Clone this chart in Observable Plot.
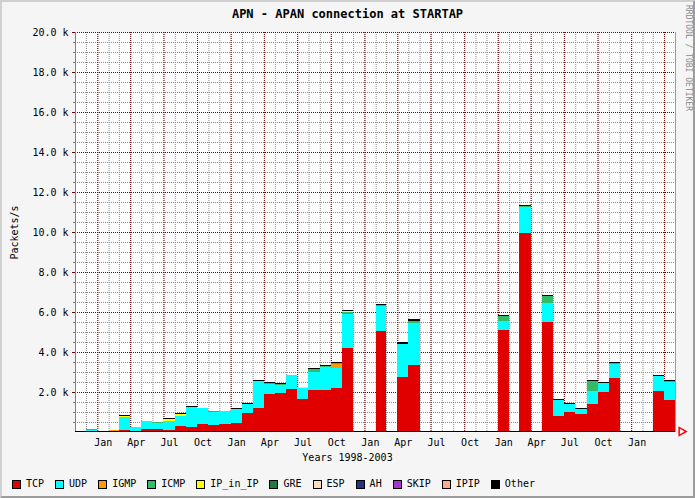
<!DOCTYPE html>
<html>
<head>
<meta charset="utf-8">
<script src="https://cdn.jsdelivr.net/npm/d3@7"></script>
<script src="https://cdn.jsdelivr.net/npm/@observablehq/plot@0.6"></script>
<style>
html, body { margin: 0; padding: 0; background: #f5f5f5; }
#chart { position: relative; width: 695px; height: 498px; overflow: hidden; background: #f5f5f5; font-family: "DejaVu Sans Mono", monospace; color: #000; }
#title { position: absolute; top: 7px; left: 0; width: 695px; text-align: center; font-size: 12px; font-weight: bold; line-height: 14px; }
#plot { position: absolute; left: 0; top: 0; }
#legend { position: absolute; left: 12px; top: 478px; display: flex; gap: 11px; font-size: 10px; line-height: 12px; }
.item { display: flex; align-items: center; }
.sw { width: 7px; height: 7px; border: 1px solid #000; margin-right: 5px; }
#credit { position: absolute; right: 3px; top: 5px; writing-mode: vertical-rl; font-size: 8px; line-height: 8px; color: #8a8a8a; }
#frame { position: absolute; left: 0; top: 0; width: 695px; height: 498px; box-sizing: border-box; border-top: 2px solid #d0d0d0; border-left: 2px solid #d0d0d0; border-right: 2px solid #9c9c9c; border-bottom: 2px solid #9c9c9c; pointer-events: none; }
</style>
</head>
<body>
<div id="chart">
  <div id="title">APN - APAN connection at STARTAP</div>
  <div id="plot"></div>
  <div id="credit">RRDTOOL / TOBI OETIKER</div>
  <div id="legend"></div>
  <div id="frame"></div>
</div>
<script>
// ---- data (packets/s), monthly ----
const months = ["1998-12","1999-02","1999-03","1999-04","1999-05","1999-06","1999-07","1999-08","1999-09","1999-10","1999-11","1999-12",
  "2000-01","2000-02","2000-03","2000-04","2000-05","2000-06","2000-07","2000-08","2000-09","2000-10","2000-11",
  "2001-02","2001-04","2001-05","2002-01","2002-03","2002-05","2002-06","2002-07","2002-08","2002-09","2002-10","2002-11",
  "2003-03","2003-04"];
const tcp = [20,50,80,70,130,140,120,290,230,400,360,400,
  440,940,1190,1890,1940,2140,1640,2080,2120,2220,4190,
  5030,2730,3330,5080,9940,5480,780,980,890,1380,1990,2690,
  2030,1590];
const udp = [100,0,680,170,410,300,440,510,1030,790,660,640,
  720,470,1350,530,400,690,570,920,1120,1000,1720,
  1250,1670,2110,470,1300,970,800,420,240,650,450,720,
  750,920];
const igmp = [0,50,0,0,0,0,0,0,0,0,0,0,
  0,0,0,0,0,0,0,0,0,170,0,
  0,0,0,0,0,0,0,0,0,0,0,0,
  0,0];
const icmp = [20,0,0,0,0,40,0,0,0,0,20,0,
  0,0,0,20,70,0,0,150,50,50,100,
  50,0,120,250,40,350,0,0,0,520,0,40,
  0,40];
const ipInIp = [0,0,60,0,0,0,100,100,0,0,0,0,
  0,0,0,0,0,0,30,0,0,0,50,
  0,0,0,0,0,0,0,0,0,0,0,0,
  0,0];
const other = [20,20,30,30,30,30,30,30,30,30,30,30,
  30,30,50,40,30,40,30,40,40,50,60,
  50,80,70,50,50,40,50,30,50,40,40,30,
  50,40];

const seriesNames = ["TCP","UDP","IGMP","ICMP","IP_in_IP","GRE","ESP","AH","SKIP","IPIP","Other"];
const seriesColors = ["#e10000","#00ffff","#ff9900","#33bb66","#ffff00","#227744","#ffddbb","#223388","#aa33cc","#ffaa88","#000000"];
const yTickValues = [2000,4000,6000,8000,10000,12000,14000,16000,18000,20000];
const xLabelMonths = ["1999-01","1999-04","1999-07","1999-10","2000-01","2000-04","2000-07","2000-10",
  "2001-01","2001-04","2001-07","2001-10","2002-01","2002-04","2002-07","2002-10","2003-01"];
const xTitle = "Years 1998-2003";
const yTitle = "Packets/s";

// ---- build table ----
const seriesValues = {TCP: tcp, UDP: udp, IGMP: igmp, ICMP: icmp, IP_in_IP: ipInIp, Other: other};
const parseMonth = d3.utcParse("%Y-%m");
const rows = [];
months.forEach((m, i) => {
  const d = parseMonth(m);
  for (const name of seriesNames) {
    const v = seriesValues[name];
    if (v && v[i] > 0) rows.push({start: d, end: d3.utcMonth.offset(d, 1), series: name, value: v[i]});
  }
});

const start = new Date(Date.UTC(1998, 10, 1));
const end = new Date(Date.UTC(2003, 4, 1));
const monthLines = d3.utcMonth.range(start, end);
const quarterLines = monthLines.filter(d => d.getUTCMonth() % 3 === 0);
const labelDates = xLabelMonths.map(m => d3.utcDay.offset(parseMonth(m), 15));
const yMinor = d3.range(500, 20001, 500).filter(v => !yTickValues.includes(v));

const chart = Plot.plot({
  width: 695, height: 498,
  marginLeft: 75, marginRight: 20, marginTop: 32, marginBottom: 66,
  style: {background: "transparent", fontFamily: "DejaVu Sans Mono, monospace", fontSize: "10px", color: "#000", overflow: "visible"},
  x: {type: "utc", domain: [start, end], label: null},
  y: {domain: [0, 20000], label: null},
  color: {domain: seriesNames, range: seriesColors},
  marks: [
    Plot.frame({fill: "white", stroke: "none"}),
    Plot.gridY(yMinor, {stroke: "#8c8c8c", strokeOpacity: 1, strokeDasharray: "1,1"}),
    Plot.gridX(monthLines, {stroke: "#8c8c8c", strokeOpacity: 1, strokeDasharray: "1,1"}),
    Plot.gridY(yTickValues, {stroke: "#7a0000", strokeOpacity: 1, strokeDasharray: "1,1"}),
    Plot.gridX(quarterLines, {stroke: "#7a0000", strokeOpacity: 1, strokeDasharray: "1,1"}),
    Plot.rectY(rows, Plot.stackY({x1: "start", x2: "end", y: "value", fill: "series", order: seriesNames, shapeRendering: "crispEdges"})),
    Plot.ruleX([start], {stroke: "#808080"}),
    Plot.ruleX([end], {stroke: "#9c9c9c"}),
    Plot.ruleY([0], {stroke: "#000", dy: -1, shapeRendering: "crispEdges"}),
    Plot.axisY(yMinor, {tickSize: 2, tickFormat: () => "", stroke: "#808080", label: null}),
    Plot.axisY(yTickValues, {tickSize: 3, tickPadding: 4, stroke: "#7a0000", label: null,
      tickFormat: d => (d / 1000).toFixed(1) + " k"}),
    Plot.axisX(labelDates, {tickSize: 0, tickPadding: 6, tickFormat: d3.utcFormat("%b"), label: null}),
    Plot.text([yTitle], {text: d => d, frameAnchor: "left", dx: -61, rotate: -90, textAnchor: "middle", lineAnchor: "middle"}),
    Plot.text([xTitle], {text: d => d, frameAnchor: "bottom", dx: -28, dy: 25, textAnchor: "middle", lineAnchor: "middle"}),
    Plot.dot([end], {x: d => d, y: () => 0, symbol: "triangle", rotate: 90, r: 3, dx: 6, dy: -1, stroke: "#ff0000", fill: "none"})
  ]
});
document.getElementById("plot").appendChild(chart);

// ---- legend ----
const legend = document.getElementById("legend");
seriesNames.forEach((name, i) => {
  const item = document.createElement("div");
  item.className = "item";
  const sw = document.createElement("span");
  sw.className = "sw";
  sw.style.background = seriesColors[i];
  const label = document.createElement("span");
  label.textContent = name;
  item.appendChild(sw);
  item.appendChild(label);
  legend.appendChild(item);
});
</script>
</body>
</html>
